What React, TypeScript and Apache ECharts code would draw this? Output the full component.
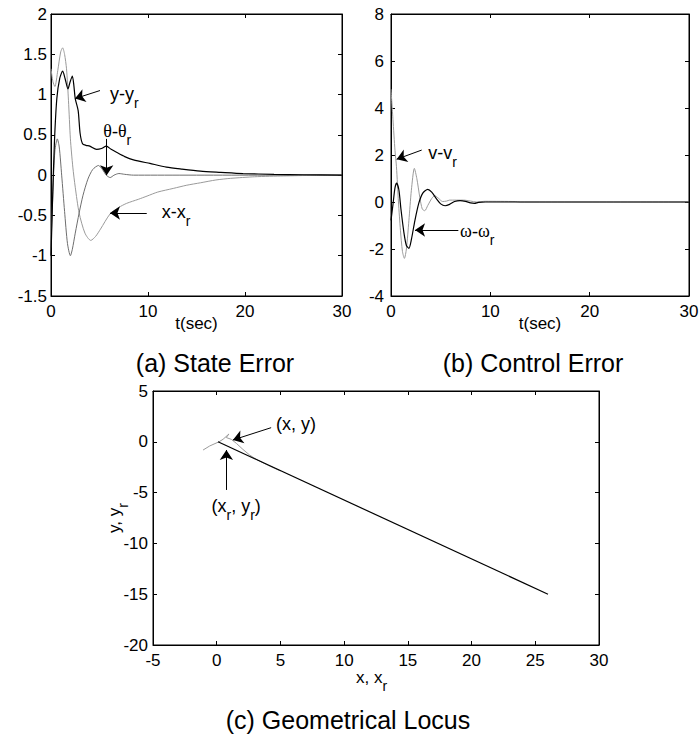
import React, { useEffect, useRef } from "react";
import * as echarts from "echarts";

// ---------------- data ----------------
// (a) State Error : [t (sec), error]
const yErrA: number[][] = [
  [0, -1.0], [0.15, -0.35], [0.35, 0.4], [0.6, 0.95], [0.9, 1.2], [1.2, 1.29], [1.45, 1.2],
  [1.75, 1.07], [1.95, 1.15], [2.2, 1.23], [2.35, 1.12], [2.5, 0.95], [2.8, 0.8], [3.0, 0.52],
  [3.25, 0.39], [3.6, 0.37], [4.0, 0.36], [4.7, 0.32], [5.2, 0.33], [5.7, 0.36], [6.2, 0.32],
  [6.8, 0.28], [7.6, 0.23], [8.5, 0.19], [10.2, 0.145], [11.9, 0.1], [13.5, 0.075], [15.4, 0.05],
  [17.5, 0.035], [19.8, 0.02], [23, 0.01], [26, 0.005], [30, 0],
];
const thetaErrA: number[][] = [
  [0, -0.9], [0.2, -0.2], [0.4, 0.3], [0.65, 0.45], [0.85, 0.35], [1.1, 0.0], [1.4, -0.45],
  [1.7, -0.85], [2.0, -1.0], [2.2, -0.92], [2.5, -0.72], [2.9, -0.47], [3.3, -0.25], [3.8, -0.05],
  [4.3, 0.07], [4.9, 0.12], [5.3, 0.07], [5.7, 0.0], [6.1, -0.03], [6.5, 0.0], [7.0, 0.02],
  [7.6, 0.01], [8.5, 0], [30, 0],
];
const xErrA: number[][] = [
  [0, 1.32], [0.2, 1.16], [0.4, 1.1], [0.7, 1.3], [1.0, 1.53], [1.2, 1.58], [1.4, 1.5],
  [1.6, 1.32], [1.8, 0.93], [2.0, 0.45], [2.25, 0.1], [2.5, -0.15], [2.9, -0.47], [3.5, -0.72],
  [4.1, -0.81], [4.6, -0.76], [5.1, -0.67], [6.1, -0.48], [7, -0.4], [7.8, -0.35], [9, -0.3],
  [9.9, -0.26], [11, -0.21], [12.6, -0.165], [14, -0.125], [15.4, -0.095], [17, -0.06],
  [18.5, -0.04], [21, -0.02], [24, -0.01], [27, -0.003], [30, 0],
];
// (b) Control Error
const vErrB: number[][] = [
  [0, 4.8], [0.2, 3.5], [0.4, 2.2], [0.55, 1.5], [0.75, 0.0], [0.95, -1.2], [1.15, -2.1],
  [1.35, -2.4], [1.55, -2.0], [1.8, -0.8], [2.05, 0.5], [2.35, 1.43], [2.6, 1.0], [2.9, 0.2],
  [3.15, -0.3], [3.4, -0.37], [3.7, -0.15], [4.1, 0.15], [4.4, 0.27], [4.8, 0.15], [5.2, 0.02],
  [5.6, 0.04], [5.9, 0.08], [7.3, 0.08], [8, 0.04], [8.6, 0.0], [9.5, 0.03], [12.5, 0.02],
  [13, 0], [30, 0],
];
const wErrB: number[][] = [
  [0, -0.78], [0.2, -0.1], [0.4, 0.6], [0.57, 0.8], [0.8, 0.5], [1.0, -0.3], [1.3, -1.3],
  [1.55, -1.85], [1.8, -1.97], [2.05, -1.6], [2.4, -0.8], [2.8, -0.05], [3.2, 0.38], [3.7, 0.54],
  [4.1, 0.42], [4.6, 0.12], [5.0, -0.08], [5.45, -0.16], [5.9, -0.1], [6.4, 0.02], [6.95, 0.06],
  [7.5, 0.03], [8.0, -0.04], [8.4, -0.06], [8.8, -0.02], [9.5, 0], [30, 0],
];
// (c) Geometrical Locus : [x, y]
const refLocusC: number[][] = [[0.1, 0], [26, -15]];
const robotLocusC: number[][] = [
  [-1.07, -0.81], [-0.55, -0.41], [0.18, 0.0], [0.5, 0.25], [0.96, 0.77], [0.75, 0.42],
  [1.15, 0.24], [1.54, -0.15], [2.05, -0.74], [2.58, -1.3], [3.1, -1.72], [4, -2.3], [5, -2.87],
];

// annotation arrows (data coordinates)
const arrowsA = [
  { from: [5.05, 1.05], to: [2.47, 0.95] },
  { from: [5.74, 0.45], to: [5.74, 0.0] },
  { from: [9.87, -0.47], to: [6.08, -0.47] },
];
const arrowsB = [
  { from: [3.09, 2.21], to: [0.57, 1.82] },
  { from: [6.78, -1.19], to: [2.42, -1.19] },
];
const arrowsC = [
  { from: [4.27, 1.39], to: [1.27, 0.18] },
  { from: [0.76, -4.74], to: [0.76, -0.81] },
];

// annotation labels (rich text, left edge / vertical centre of the main glyphs, data coords)
const labelsA = [
  { text: "{m|y-y}{s|r}", at: [6.08, 1.0] },
  { text: "{g|θ-θ}{s|r}", at: [5.39, 0.54] },
  { text: "{m|x-x}{s|r}", at: [11.41, -0.465] },
];
const labelsB = [
  { text: "{m|v-v}{s|r}", at: [3.76, 2.05] },
  { text: "{g|ω-ω}{s|r}", at: [6.95, -1.28] },
];
const labelsC = [
  { text: "{m|(x, y)}", at: [4.66, 1.65] },
  { text: "{m|(x}{s|r}{m|, y}{s|r}{m|)}", at: [-0.41, -6.45] },
];

const captions = ["(a) State Error", "(b) Control Error", "(c) Geometrical Locus"];
const timeAxisName = "t(sec)";
const locusXName = "{m|x, x}{s|r}";
const locusYName = "{m|y, y}{s|r}";

// ---------------- layout / style ----------------
const SANS = "'Liberation Sans', Arial, Helvetica, sans-serif";
const SERIF = "'Liberation Serif', 'Times New Roman', serif";
const TICK_FS = 17;
const ANN_FS = 18;
const CAP_FS = 25;

const GRIDS = [
  { left: 51, top: 14, width: 291, height: 282, xr: [0, 30, 10], yr: [-1.5, 2, 0.5], ym: 4 },
  { left: 391, top: 14, width: 298, height: 282, xr: [0, 30, 10], yr: [-4, 8, 2], ym: 7 },
  { left: 153, top: 391, width: 446, height: 254, xr: [-5, 30, 5], yr: [-20, 5, 5], ym: 5 },
];

const rich = (fs: number) => ({
  m: { fontSize: fs, fontFamily: SANS, lineHeight: fs + 2, verticalAlign: "top", fill: "#000" },
  g: { fontSize: fs, fontFamily: SERIF, lineHeight: fs + 2, verticalAlign: "top", fill: "#000" },
  s: { fontSize: Math.round(fs * 0.8), fontFamily: SANS, lineHeight: fs + 7, verticalAlign: "bottom", fill: "#000" },
});

function buildOption() {
  const tick = { show: true, inside: true, length: 4, lineStyle: { color: "#000", width: 1 } };
  const line = { show: true, onZero: false, lineStyle: { color: "#000", width: 1 } };
  const xAxis: any[] = [];
  const yAxis: any[] = [];
  GRIDS.forEach((g, i) => {
    const [x0, x1, xs] = g.xr;
    const [y0, y1, ys] = g.yr;
    xAxis.push({
      type: "value", gridIndex: i, position: "bottom", min: x0, max: x1, interval: xs,
      axisLine: line, axisTick: tick, splitLine: { show: false },
      axisLabel: { color: "#000", fontSize: TICK_FS, fontFamily: SANS, margin: 7 },
    });
    xAxis.push({
      type: "value", gridIndex: i, position: "top", min: x0, max: x1, interval: xs,
      axisLine: line, axisTick: tick, splitLine: { show: false }, axisLabel: { show: false },
    });
    yAxis.push({
      type: "value", gridIndex: i, position: "left", min: y0, max: y1, interval: ys,
      axisLine: line, axisTick: tick, splitLine: { show: false },
      axisLabel: { color: "#000", fontSize: TICK_FS, fontFamily: SANS, margin: g.ym },
    });
    yAxis.push({
      type: "value", gridIndex: i, position: "right", min: y0, max: y1, interval: ys,
      axisLine: line, axisTick: tick, splitLine: { show: false }, axisLabel: { show: false },
    });
  });

  const arrowMark = (arrows: { from: number[]; to: number[] }[]) => ({
    silent: true,
    symbol: ["none", "arrow"],
    symbolSize: 10,
    lineStyle: { color: "#000", width: 1, type: "solid" },
    itemStyle: { color: "#000" },
    label: { show: false },
    emphasis: { disabled: true },
    data: arrows.map((a) => [{ coord: a.from }, { coord: a.to }]),
  });

  const ser = (data: number[][], grid: number, color: string, width: number, smooth: any, extra: any = {}) => ({
    type: "line",
    xAxisIndex: grid * 2,
    yAxisIndex: grid * 2,
    data,
    showSymbol: false,
    symbol: "none",
    smooth,
    silent: true,
    lineStyle: { color, width },
    itemStyle: { color },
    ...extra,
  });

  return {
    animation: false,
    backgroundColor: "#fff",
    grid: GRIDS.map((g) => ({
      left: g.left, top: g.top, width: g.width, height: g.height,
      show: true, borderColor: "#000", borderWidth: 1, backgroundColor: "transparent",
      containLabel: false, outerBoundsMode: "none",
    })),
    xAxis,
    yAxis,
    series: [
      ser(xErrA, 0, "#9a9a9a", 1, 0.25),
      ser(thetaErrA, 0, "#6e6e6e", 1, 0.25),
      ser(yErrA, 0, "#000", 1.2, 0.25, { markLine: arrowMark(arrowsA) }),
      ser(vErrB, 1, "#9a9a9a", 1, 0.25),
      ser(wErrB, 1, "#000", 1.2, 0.25, { markLine: arrowMark(arrowsB) }),
      ser(robotLocusC, 2, "#9a9a9a", 1, false),
      ser(refLocusC, 2, "#000", 1.2, false, { markLine: arrowMark(arrowsC) }),
    ],
  };
}

export default function App() {
  const ref = useRef<HTMLDivElement>(null);
  useEffect(() => {
    document.body.style.margin = "0";
    const chart = echarts.init(ref.current as HTMLDivElement, null, { renderer: "svg" });
    chart.setOption(buildOption() as any);

    const toPx = (seriesIndex: number, pt: number[]) =>
      chart.convertToPixel({ seriesIndex } as any, pt) as unknown as number[];

    const graphics: any[] = [];
    const addLabels = (labels: { text: string; at: number[] }[], seriesIndex: number) => {
      labels.forEach((l) => {
        const [px, py] = toPx(seriesIndex, l.at);
        graphics.push({
          type: "text", silent: true, x: px, y: py - (ANN_FS + 2) / 2,
          style: { text: l.text, rich: rich(ANN_FS), align: "left", verticalAlign: "top", fill: "#000" },
        });
      });
    };
    addLabels(labelsA, 2);
    addLabels(labelsB, 4);
    addLabels(labelsC, 6);

    // axis names
    [0, 1].forEach((i) => {
      const g = GRIDS[i];
      graphics.push({
        type: "text", silent: true, x: g.left + g.width / 2, y: g.top + g.height + 27,
        style: { text: timeAxisName, fontSize: TICK_FS, fontFamily: SANS, fill: "#000", align: "center", verticalAlign: "middle" },
      });
    });
    const gc = GRIDS[2];
    graphics.push({
      type: "text", silent: true, x: gc.left + gc.width / 2 - 20, y: gc.top + gc.height + 33 - (TICK_FS + 2) / 2,
      style: { text: locusXName, rich: rich(TICK_FS), align: "left", verticalAlign: "top", fill: "#000" },
    });
    graphics.push({
      type: "text", silent: true, x: gc.left - 35, y: gc.top + gc.height / 2, rotation: Math.PI / 2,
      style: { text: locusYName, rich: rich(TICK_FS), align: "center", verticalAlign: "middle", fill: "#000" },
    });

    // captions
    const capPos = [[215, 363], [533, 363], [348, 720]];
    captions.forEach((c, i) => {
      graphics.push({
        type: "text", silent: true, x: capPos[i][0], y: capPos[i][1],
        style: { text: c, fontSize: CAP_FS, fontFamily: SANS, fill: "#000", align: "center", verticalAlign: "middle" },
      });
    });

    chart.setOption({ graphic: graphics } as any);
    return () => chart.dispose();
  }, []);
  return <div ref={ref} style={{ width: 700, height: 735 }} />;
}
